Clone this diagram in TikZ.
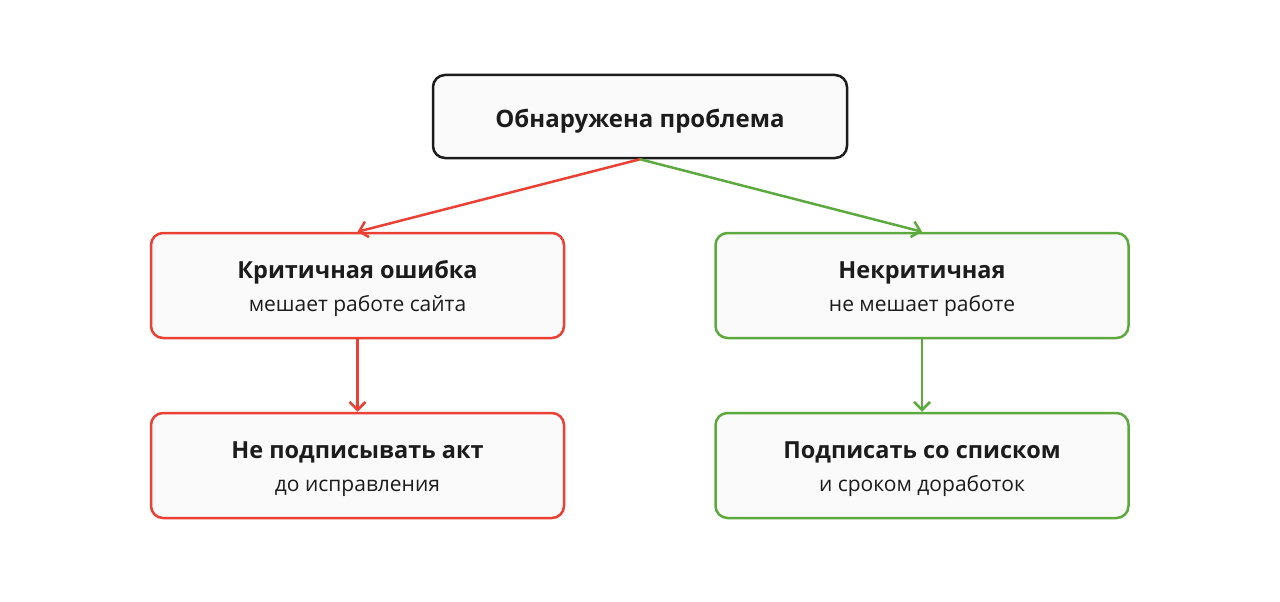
\documentclass[tikz,border=0pt]{standalone}
\usepackage{fontspec}
\setmainfont{Open Sans}
\usetikzlibrary{positioning,arrows.meta}

\definecolor{errred}{RGB}{234,65,52}
\definecolor{okgreen}{RGB}{92,170,62}
\definecolor{boxfill}{RGB}{250,250,250}
\definecolor{ink}{RGB}{28,28,28}

\newcommand{\boxtitle}[1]{\rule{0pt}{24pt}{\fontsize{23.5}{33}\selectfont\bfseries #1}}
\newcommand{\boxnote}[1]{{\fontsize{21}{33}\selectfont #1}\rule[-5.4pt]{0pt}{5.4pt}}

\begin{document}
\begin{tikzpicture}[
x=1pt, y=-1pt,
box/.style={draw, rounded corners=12pt, line width=2.5pt, fill=boxfill, text=ink,
  minimum width=413pt, minimum height=105pt, align=center, inner sep=0pt,
  font=\fontsize{21}{33}\selectfont},
topbox/.style={box, draw=ink, minimum width=414pt, minimum height=83pt,
  text height=27pt, text depth=5pt, font=\fontsize{24}{30}\selectfont\bfseries},
redbox/.style={box, draw=errred},
greenbox/.style={box, draw=okgreen},
arrow/.style={-{Straight Barb[length=8pt,width=16pt]}, line width=2.5pt},
]
\useasboundingbox (0,0) rectangle (1280,602);

\node[topbox] (prob) at (640,116.5) {Обнаружена проблема};

\node[redbox] (crit) at (357.5,285.5) {\boxtitle{Критичная ошибка}\\\boxnote{мешает работе сайта}};
\node[greenbox] (minor) at (922,285.5) {\boxtitle{Некритичная}\\\boxnote{не мешает работе}};

\node[redbox] (nosign) [below=72.5pt of crit] {\boxtitle{Не подписывать акт}\\\boxnote{до исправления}};
\node[greenbox] (sign) [below=72.5pt of minor] {\boxtitle{Подписать со списком}\\\boxnote{и сроком доработок}};

\draw[arrow, errred] (prob.south) -- (crit.north);
\draw[arrow, okgreen] (prob.south) -- (minor.north);
\draw[arrow, errred] (crit.south) -- (nosign.north);
\draw[arrow, okgreen] (minor.south) -- (sign.north);

\end{tikzpicture}
\end{document}
